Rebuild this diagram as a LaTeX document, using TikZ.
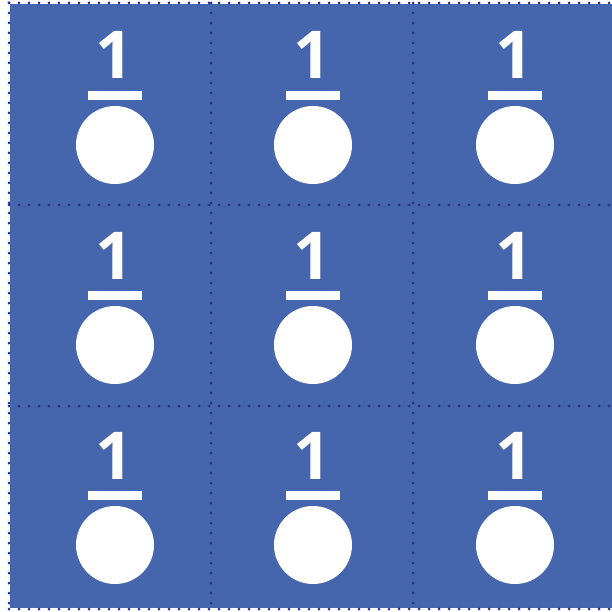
\documentclass[tikz,border=0pt]{standalone}
\usepackage{fontspec}
\setmainfont{Open Sans}
\definecolor{cellblue}{RGB}{69,101,173}
\definecolor{dotnavy}{RGB}{40,50,135}
\begin{document}
\begin{tikzpicture}[x=1pt,y=-1pt,
  digit/.style={text=white,inner sep=0pt,anchor=base,font=\fontsize{66}{66}\selectfont\bfseries},
  barbox/.style={fill=white,inner sep=0pt,minimum width=54pt,minimum height=9pt},
  disc/.style={circle,fill=white,inner sep=0pt,minimum size=78pt},
  gridline/.style={dotnavy,line width=3pt,line cap=round,dash pattern=on 0pt off 10pt}]
\useasboundingbox (0,0) rectangle (612,612);
\fill[cellblue] (10,4) rectangle (612,608);
\foreach \gx in {9,211,413} \draw[gridline] (\gx,3) -- (\gx,612);
\foreach \gy in {3,205,406,609} \draw[gridline] (9,\gy) -- (612,\gy);
\foreach \cx/\c in {115/a,313/b,515/c}{
  \foreach \ry/\r in {0/1,200/2,400/3}{
    \node[digit] (d\c\r) at (\cx-1,79+\ry) {1};
    \node[barbox] (b\c\r) at (\cx,95.5+\ry) {};
    \node[disc] (o\c\r) at (\cx,145+\ry) {};
  }
}
\end{tikzpicture}
\end{document}
